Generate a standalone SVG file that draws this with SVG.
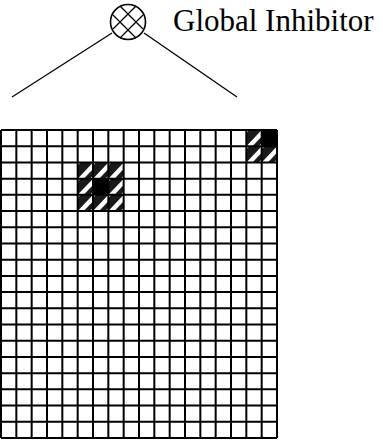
<svg xmlns="http://www.w3.org/2000/svg" width="383" height="440" viewBox="0 0 383 440">
<style>
.ln{stroke:#000;stroke-width:1.3;fill:none}
.grid{stroke:#000;stroke-width:2;fill:none}
.lbl{font-family:"Liberation Serif","Times New Roman",serif;font-size:31px;fill:#000}
</style>
<defs>
<g id="hatch">
<rect x="0" y="0" width="15.33" height="16.21" fill="#fff"/>
<polygon points="3.07,0 15.33,0 0,16.21 0,3.24" fill="#1a1a1a"/>
<polygon points="15.33,6.48 15.33,12.97 12.26,16.21 6.13,16.21" fill="#1a1a1a"/>
</g>
<rect id="solid" x="0" y="0" width="15.33" height="16.21" fill="#000"/>
</defs>
<rect width="383" height="440" fill="#fff"/>
<g id="connectors">
<line class="ln" x1="112" y1="33" x2="12" y2="97"/>
<line class="ln" x1="144" y1="33" x2="237" y2="97"/>
</g>
<g id="global-inhibitor">
<circle cx="128" cy="22" r="17.5" fill="#fff" stroke="#000" stroke-width="1.6"/>
<line class="ln" stroke-width="1.8" x1="120" y1="6" x2="143" y2="29"/>
<line class="ln" stroke-width="1.8" x1="113" y1="15" x2="136" y2="38"/>
<line class="ln" stroke-width="1.8" x1="136" y1="6" x2="113" y2="29"/>
<line class="ln" stroke-width="1.8" x1="143" y1="15" x2="120" y2="38"/>
<text class="lbl" x="173" y="31">Global Inhibitor</text>
</g>
<g id="grid">
<use href="#hatch" x="77.67" y="162.42"/>
<use href="#hatch" x="93" y="162.42"/>
<use href="#hatch" x="108.33" y="162.42"/>
<use href="#hatch" x="77.67" y="178.63"/>
<use href="#solid" x="93" y="178.63"/>
<use href="#hatch" x="108.33" y="178.63"/>
<use href="#hatch" x="77.67" y="194.84"/>
<use href="#hatch" x="93" y="194.84"/>
<use href="#hatch" x="108.33" y="194.84"/>
<use href="#hatch" x="246.33" y="130"/>
<use href="#solid" x="261.67" y="130"/>
<use href="#hatch" x="246.33" y="146.21"/>
<use href="#hatch" x="261.67" y="146.21"/>
<path class="grid" d="M1,130V438M16.33,130V438M31.67,130V438M47,130V438M62.33,130V438M77.67,130V438M93,130V438M108.33,130V438M123.67,130V438M139,130V438M154.33,130V438M169.67,130V438M185,130V438M200.33,130V438M215.67,130V438M231,130V438M246.33,130V438M261.67,130V438M277,130V438
M1,130H277M1,146.21H277M1,162.42H277M1,178.63H277M1,194.84H277M1,211.05H277M1,227.26H277M1,243.47H277M1,259.68H277M1,275.89H277M1,292.1H277M1,308.31H277M1,324.52H277M1,340.73H277M1,356.94H277M1,373.15H277M1,389.36H277M1,405.57H277M1,421.78H277M1,438H277"/>
</g>
</svg>
